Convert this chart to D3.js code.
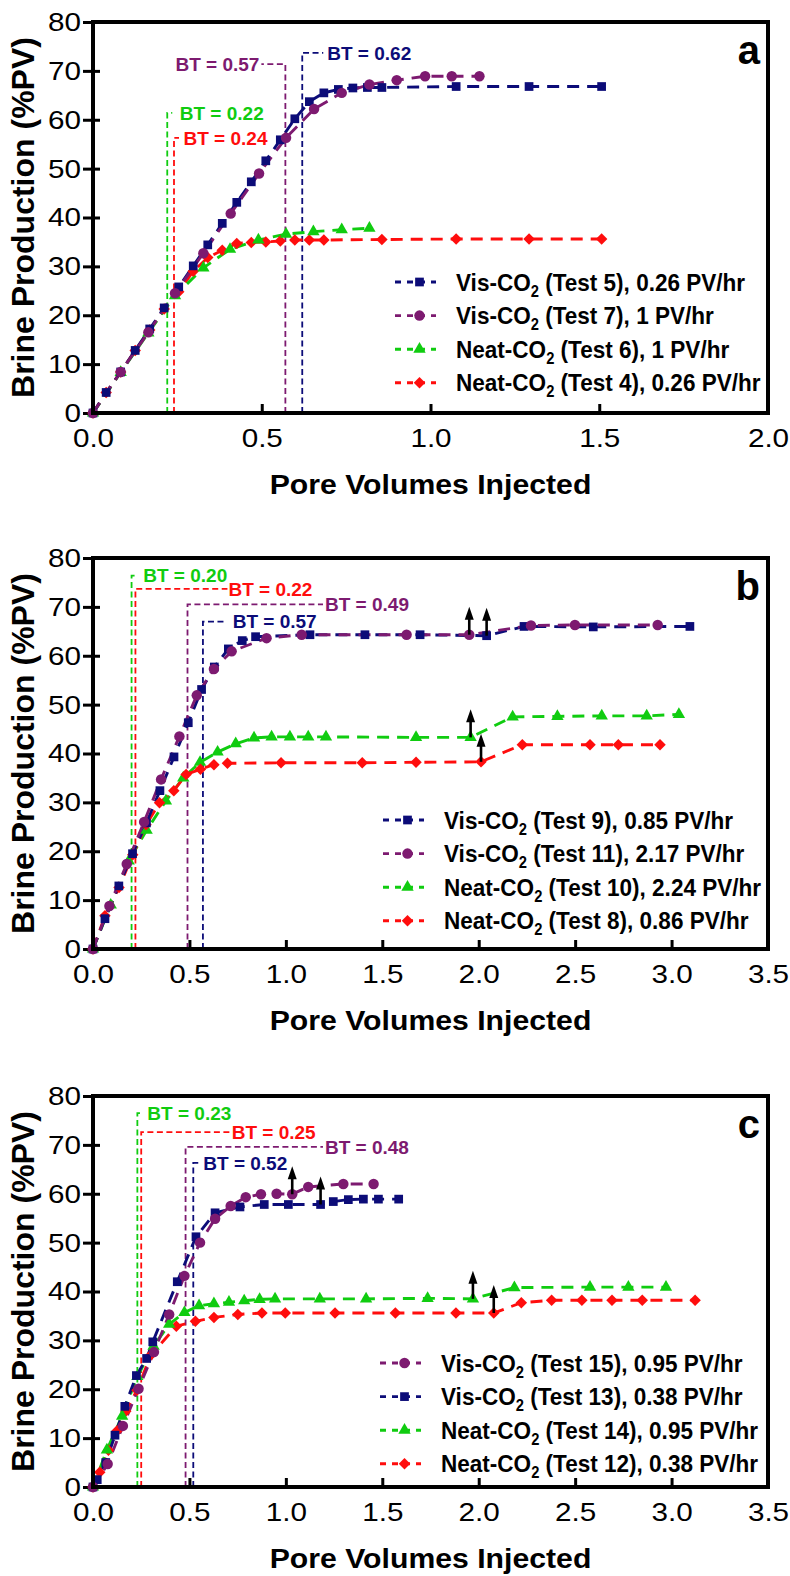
<!DOCTYPE html>
<html><head><meta charset="utf-8">
<script src="https://cdn.jsdelivr.net/npm/d3@7"></script>
<style>body{margin:0;background:#fff}</style>
</head><body><svg id="chart" width="790" height="1576"></svg>
<script>
// ---------------- DATA ----------------
const yTicks = [0,10,20,30,40,50,60,70,80];
const xTicksA = [0,0.5,1.0,1.5,2.0];
const xTicksBC = [0,0.5,1.0,1.5,2.0,2.5,3.0,3.5];

// Panel a
const aTest5 = [[0,0],[0.039,4.2],[0.082,8.4],[0.125,12.8],[0.168,17.2],[0.211,21.5],[0.254,25.8],[0.297,30.1],[0.340,34.4],[0.383,38.8],[0.426,43.1],[0.469,47.3],[0.512,51.6],[0.555,55.9],[0.598,60.2],[0.641,63.7],[0.684,65.5],[0.727,66.2],[0.770,66.5],[0.813,66.6],[0.856,66.6],[1.076,66.8],[1.292,66.8],[1.507,66.8]];
const aTest7 = [[0,0],[0.082,8.4],[0.164,16.5],[0.243,24.5],[0.327,32.7],[0.408,40.8],[0.492,49.0],[0.572,56.3],[0.655,62.2],[0.737,65.5],[0.819,67.2],[0.900,68.1],[0.984,68.9],[1.063,68.9],[1.145,68.9]];
const aTest6 = [[0,0],[0.082,8.3],[0.164,16.4],[0.243,24.0],[0.327,29.7],[0.406,33.5],[0.490,35.4],[0.572,36.6],[0.653,37.1],[0.737,37.5],[0.819,37.8]];
const aTest4 = [[0,0],[0.039,4.2],[0.082,8.4],[0.125,12.8],[0.168,17.0],[0.211,21.3],[0.254,24.8],[0.297,29.0],[0.340,31.8],[0.383,33.3],[0.426,34.7],[0.469,34.9],[0.512,35.0],[0.555,35.2],[0.598,35.4],[0.641,35.4],[0.684,35.4],[0.856,35.5],[1.076,35.6],[1.292,35.6],[1.507,35.6]];
const legendA = [["Vis-CO"," (Test 5), 0.26 PV/hr"],["Vis-CO"," (Test 7), 1 PV/hr"],["Neat-CO"," (Test 6), 1 PV/hr"],["Neat-CO"," (Test 4), 0.26 PV/hr"]];
const btA = [0.22,0.24,0.57,0.62];

// Panel b
const bTest9 = [[0,0],[0.062,6.2],[0.134,12.9],[0.205,19.5],[0.277,25.8],[0.347,32.4],[0.420,39.3],[0.494,46.3],[0.563,53.1],[0.629,57.7],[0.702,61.4],[0.774,63.1],[0.843,63.9],[1.125,64.3],[1.410,64.3],[1.696,64.3],[2.041,64.1],[2.235,66.0],[2.594,65.9],[3.095,66.0]];
const bTest11 = [[0,0],[0.085,8.8],[0.175,17.4],[0.265,26.0],[0.353,34.7],[0.448,43.5],[0.538,51.9],[0.627,57.3],[0.719,60.9],[0.900,63.6],[1.082,64.3],[1.626,64.3],[1.951,64.3],[2.271,66.2],[2.499,66.3],[2.928,66.3]];
const bTest10 = [[0,0],[0.092,9.0],[0.185,18.0],[0.278,24.3],[0.378,30.3],[0.468,35.0],[0.555,38.2],[0.646,40.3],[0.740,42.0],[0.835,43.2],[0.926,43.4],[1.021,43.4],[1.116,43.4],[1.208,43.4],[1.675,43.3],[1.958,43.3],[2.176,47.5],[2.408,47.6],[2.638,47.7],[2.871,47.7],[3.038,48.0]];
const bTest8 = [[0,0],[0.062,6.8],[0.135,12.6],[0.206,19.3],[0.275,25.4],[0.345,29.9],[0.419,32.4],[0.483,35.7],[0.557,36.8],[0.627,37.7],[0.697,38.0],[0.975,38.1],[1.396,38.1],[1.675,38.2],[2.012,38.3],[2.226,41.8],[2.577,41.8],[2.724,41.8],[2.940,41.8]];
const legendB = [["Vis-CO"," (Test 9), 0.85 PV/hr"],["Vis-CO"," (Test 11), 2.17 PV/hr"],["Neat-CO"," (Test 10), 2.24 PV/hr"],["Neat-CO"," (Test 8), 0.86 PV/hr"]];
const btB = [0.20,0.22,0.49,0.57];
const arrowsB = [[1.951,64.3],[2.041,64.1],[1.958,43.3],[2.012,38.3]];

// Panel c
const cTest15 = [[0,0],[0.076,4.7],[0.155,12.5],[0.236,20.1],[0.316,27.6],[0.395,35.3],[0.474,43.2],[0.555,50.0],[0.633,54.9],[0.714,57.5],[0.792,59.3],[0.871,59.9],[0.952,60.0],[1.033,59.9],[1.116,61.4],[1.298,62.0],[1.455,62.0]];
const cTest13 = [[0,0],[0.022,1.5],[0.066,5.0],[0.114,10.6],[0.165,16.5],[0.225,22.8],[0.278,26.3],[0.310,29.7],[0.437,42.0],[0.534,51.2],[0.633,56.1],[0.762,57.3],[0.888,57.8],[1.013,57.8],[1.180,57.8],[1.246,58.4],[1.324,58.8],[1.402,58.9],[1.480,58.9],[1.585,58.9]];
const cTest14 = [[0,0],[0.072,7.6],[0.151,14.5],[0.230,22.6],[0.314,28.8],[0.395,33.3],[0.474,35.7],[0.550,37.1],[0.627,37.5],[0.705,37.8],[0.784,38.1],[0.864,38.4],[0.944,38.5],[1.176,38.5],[1.416,38.5],[1.735,38.6],[1.970,38.5],[2.185,40.8],[2.577,40.9],[2.776,40.9],[2.971,40.9]];
const cTest12 = [[0,0],[0.035,3.0],[0.080,7.5],[0.125,11.5],[0.170,15.5],[0.228,19.8],[0.300,27.0],[0.432,32.9],[0.531,33.9],[0.627,34.7],[0.751,35.3],[0.876,35.6],[0.997,35.6],[1.255,35.6],[1.568,35.6],[1.882,35.6],[2.078,35.6],[2.221,37.7],[2.378,38.2],[2.535,38.2],[2.691,38.2],[2.848,38.2],[3.122,38.2]];
const legendC = [["Vis-CO"," (Test 15), 0.95 PV/hr"],["Vis-CO"," (Test 13), 0.38 PV/hr"],["Neat-CO"," (Test 14), 0.95 PV/hr"],["Neat-CO"," (Test 12), 0.38 PV/hr"]];
const btC = [0.23,0.25,0.48,0.52];
const arrowsC = [[1.033,59.9],[1.180,57.8],[1.970,38.5],[2.078,35.6]];

// ---------------- STYLE / LAYOUT ----------------
const COL = {navy:"#0c0c78", purple:"#7d1a70", green:"#10cc10", red:"#ff0d0d"};
const SYM = {square:{t:d3.symbolSquare,s:76,r:0}, circle:{t:d3.symbolCircle,s:86,r:0}, tri:{t:d3.symbolTriangle,s:66,r:0}, diamond:{t:d3.symbolSquare,s:66,r:45}};
const FONT = "Arial, 'Liberation Sans', sans-serif";

const panels = [
  {top:22, xMax:2, xTicks:xTicksA, letter:"a", legendTop:260, legendX:395,
   series:[
     {d:aTest5, c:"navy", m:"square"},
     {d:aTest7, c:"purple", m:"circle"},
     {d:aTest6, c:"green", m:"tri"},
     {d:aTest4, c:"red", m:"diamond"}],
   legend:legendA, drawOrder:[3,2,0,1],
   ann:[{bt:btA[0],c:"green",top:61.4,h:5,dx:12.5,a:"start"},
        {bt:btA[1],c:"red",top:56.3,h:5,dx:9.5,a:"start"},
        {bt:btA[2],c:"purple",top:71.4,h:-24,dx:-26,a:"end"},
        {bt:btA[3],c:"navy",top:73.7,h:21,dx:25,a:"start"}],
   arrows:[]},
  {top:558, xMax:3.5, xTicks:xTicksBC, letter:"b", legendTop:262, legendX:383,
   series:[
     {d:bTest9, c:"navy", m:"square"},
     {d:bTest11, c:"purple", m:"circle"},
     {d:bTest10, c:"green", m:"tri"},
     {d:bTest8, c:"red", m:"diamond"}],
   legend:legendB, drawOrder:[2,3,0,1],
   ann:[{bt:btB[0],c:"green",top:76.4,h:3,dx:11.7,a:"start"},
        {bt:btB[1],c:"red",top:73.7,h:92,dx:93,a:"start"},
        {bt:btB[2],c:"purple",top:70.5,h:135.5,dx:137.5,a:"start"},
        {bt:btB[3],c:"navy",top:67.0,h:24,dx:29.8,a:"start"}],
   arrows:arrowsB},
  {top:1096, xMax:3.5, xTicks:xTicksBC, letter:"c", legendTop:267, legendX:380,
   series:[
     {d:cTest15, c:"purple", m:"circle"},
     {d:cTest13, c:"navy", m:"square"},
     {d:cTest14, c:"green", m:"tri"},
     {d:cTest12, c:"red", m:"diamond"}],
   legend:legendC, drawOrder:[3,2,1,0],
   ann:[{bt:btC[0],c:"green",top:76.5,h:3,dx:10,a:"start"},
        {bt:btC[1],c:"red",top:72.6,h:89.5,dx:90.5,a:"start"},
        {bt:btC[2],c:"purple",top:69.6,h:137.4,dx:139.4,a:"start"},
        {bt:btC[3],c:"navy",top:66.3,h:5,dx:10,a:"start"}],
   arrows:arrowsC}
];

const svg = d3.select("#chart");
svg.append("rect").attr("width",790).attr("height",1576).attr("fill","#fff");

function symPath(m){ return d3.symbol().type(SYM[m].t).size(SYM[m].s)(); }

panels.forEach(p => {
  const L = 93, R = 768, T = p.top, B = p.top + 391;
  const x = d3.scaleLinear().domain([0,p.xMax]).range([L,R]);
  const y = d3.scaleLinear().domain([0,80]).range([B,T]);
  const g = svg.append("g");

  // axes
  const ya = g.append("g").attr("transform",`translate(${L},0)`)
    .call(d3.axisLeft(y).tickValues(yTicks).tickSize(10).tickPadding(2).tickFormat(d3.format("d")));
  ya.select(".domain").remove();
  ya.selectAll(".tick line").attr("x1",7).attr("x2",-10).attr("stroke","#000").attr("stroke-width",3);
  ya.selectAll(".tick text").attr("x",0).attr("transform","translate(-12,0) scale(1.12,1)")
    .attr("font-family",FONT).attr("font-size",26.5).attr("fill","#000");

  const xa = g.append("g").attr("transform",`translate(0,${B})`)
    .call(d3.axisBottom(x).tickValues(p.xTicks).tickSize(-9).tickPadding(15).tickFormat(d3.format(".1f")));
  xa.select(".domain").remove();
  xa.selectAll(".tick line").attr("stroke","#000").attr("stroke-width",3);
  xa.selectAll(".tick text").attr("y",0).attr("transform","translate(0,15) scale(1.12,1)")
    .attr("font-family",FONT).attr("font-size",26.5).attr("fill","#000");

  // BT annotations
  p.ann.forEach(a => {
    const x0 = x(a.bt), yt = y(a.top);
    g.append("path").attr("d",`M${x0},${B}V${yt}H${x0+a.h}`)
      .attr("fill","none").attr("stroke",COL[a.c]).attr("stroke-width",1.8)
      .attr("stroke-dasharray","6,3.5");
    g.append("text").attr("x",x0+a.dx).attr("y",yt).attr("dy","0.36em")
      .attr("text-anchor",a.a).attr("font-family",FONT).attr("font-weight","bold")
      .attr("font-size",19).attr("fill",COL[a.c]).text("BT = "+a.bt.toFixed(2));
  });

  // series lines
  const line = d3.line().x(d=>x(d[0])).y(d=>y(d[1]));
  p.drawOrder.forEach(i => {
    const s = p.series[i];
    g.append("path").datum(s.d).attr("d",line).attr("fill","none")
      .attr("stroke",COL[s.c]).attr("stroke-width",2.9).attr("stroke-dasharray","12,8");
  });
  p.drawOrder.forEach(i => {
    const s = p.series[i];
    g.append("g").selectAll("path").data(s.d).join("path")
      .attr("d",symPath(s.m))
      .attr("transform",d=>`translate(${x(d[0])},${y(d[1])}) rotate(${SYM[s.m].r})`)
      .attr("fill",COL[s.c]);
  });

  // arrows
  p.arrows.forEach(a => {
    const ax = x(a[0]), ay = y(a[1]);
    g.append("line").attr("x1",ax).attr("x2",ax).attr("y1",ay).attr("y2",ay-16)
      .attr("stroke","#000").attr("stroke-width",2.6);
    g.append("path").attr("d",`M${ax-4.5},${ay-15}L${ax+4.5},${ay-15}L${ax},${ay-28}Z`).attr("fill","#000");
  });

  // frame
  g.append("rect").attr("x",L).attr("y",T).attr("width",R-L).attr("height",B-T)
    .attr("fill","none").attr("stroke","#000").attr("stroke-width",4);

  // legend
  p.legend.forEach((lab,i) => {
    const s = p.series[i];
    const ly = T + p.legendTop + i*33.6, lx = p.legendX;
    g.append("line").attr("x1",lx).attr("x2",lx+41).attr("y1",ly).attr("y2",ly)
      .attr("stroke",COL[s.c]).attr("stroke-width",2.9).attr("stroke-dasharray","6,6");
    g.append("path").attr("d",symPath(s.m))
      .attr("transform",`translate(${lx+24.5},${ly}) rotate(${SYM[s.m].r})`).attr("fill",COL[s.c]);
    const t = g.append("text").attr("transform",`translate(${lx+61},${ly+8.5}) scale(0.92,1)`)
      .attr("font-family",FONT).attr("font-weight","bold").attr("font-size",24.5).attr("fill","#000");
    t.append("tspan").text(lab[0]);
    t.append("tspan").attr("font-size",16).attr("dy",6).text("2");
    t.append("tspan").attr("dy",-6).text(lab[1]);
  });

  // panel letter
  g.append("text").attr("x",760).attr("y",T+42).attr("text-anchor","end")
    .attr("font-family",FONT).attr("font-weight","bold").attr("font-size",40).text(p.letter);

  // axis titles
  g.append("text").attr("transform",`translate(${(L+R)/2},${B+81}) scale(1.06,1)`).attr("text-anchor","middle")
    .attr("font-family",FONT).attr("font-weight","bold").attr("font-size",28.5).text("Pore Volumes Injected");
  g.append("text").attr("transform",`translate(34,${(T+B)/2}) rotate(-90)`).attr("text-anchor","middle")
    .attr("font-family",FONT).attr("font-weight","bold").attr("font-size",32).text("Brine Production (%PV)");
});
</script></body></html>
